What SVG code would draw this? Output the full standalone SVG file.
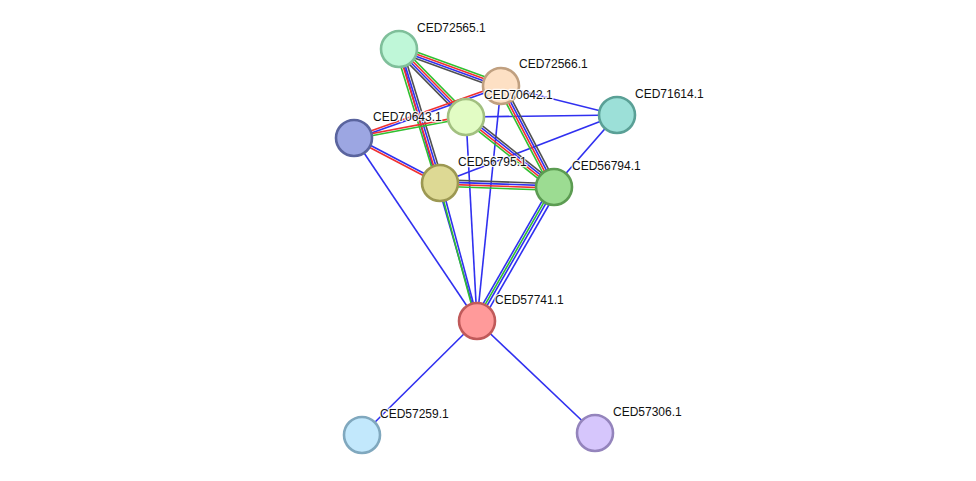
<svg xmlns="http://www.w3.org/2000/svg" width="976" height="481" viewBox="0 0 976 481">
<style>
line{stroke-width:1.6;fill:none}
.b{stroke:#3030f0}.r{stroke:#f03030}.g{stroke:#30c030}.k{stroke:#505050}
circle{stroke-width:2.6}
text{font-family:"Liberation Sans",Arial,sans-serif;font-size:12px;fill:#111;stroke:#fff;stroke-width:2.5px;stroke-opacity:0.85;paint-order:stroke;stroke-linejoin:round}
</style>
<rect width="976" height="481" fill="#fff"/>
<g id="connectors">
<line class="b" x1="354" y1="138" x2="477" y2="321"/>
<line class="b" x1="466" y1="117" x2="477" y2="321"/>
<line class="b" x1="501" y1="86" x2="477" y2="321"/>
<line class="b" x1="399" y1="49" x2="477" y2="321"/>
<line class="b" x1="477" y1="321" x2="362" y2="435"/>
<line class="b" x1="477" y1="321" x2="595" y2="433"/>
<line class="b" x1="466" y1="117" x2="617" y2="115"/>
<line class="b" x1="501" y1="86" x2="617" y2="115"/>
<line class="b" x1="440" y1="183" x2="617" y2="115"/>
<line class="b" x1="554" y1="187" x2="617" y2="115"/>
<g transform="translate(399,49) rotate(19.94)">
<line class="g" x1="0" y1="-3.3" x2="108.5" y2="-3.3"/><line class="r" x1="0" y1="-1.1" x2="108.5" y2="-1.1"/><line class="b" x1="0" y1="1.1" x2="108.5" y2="1.1"/><line class="k" x1="0" y1="3.3" x2="108.5" y2="3.3"/>
</g>
<g transform="translate(399,49) rotate(45.42)">
<line class="g" x1="0" y1="-3.3" x2="95.5" y2="-3.3"/><line class="r" x1="0" y1="-1.1" x2="95.5" y2="-1.1"/><line class="b" x1="0" y1="1.1" x2="95.5" y2="1.1"/><line class="k" x1="0" y1="3.3" x2="95.5" y2="3.3"/>
</g>
<g transform="translate(399,49) rotate(73)">
<line class="k" x1="0" y1="-3.3" x2="140.1" y2="-3.3"/><line class="b" x1="0" y1="-1.1" x2="140.1" y2="-1.1"/><line class="r" x1="0" y1="1.1" x2="140.1" y2="1.1"/><line class="g" x1="0" y1="3.3" x2="140.1" y2="3.3"/>
</g>
<g transform="translate(466,117) rotate(38.5)">
<line class="k" x1="0" y1="-3.3" x2="112.4" y2="-3.3"/><line class="b" x1="0" y1="-1.1" x2="112.4" y2="-1.1"/><line class="r" x1="0" y1="1.1" x2="112.4" y2="1.1"/><line class="g" x1="0" y1="3.3" x2="112.4" y2="3.3"/>
</g>
<g transform="translate(501,86) rotate(62.3)">
<line class="k" x1="0" y1="-3.3" x2="114.1" y2="-3.3"/><line class="b" x1="0" y1="-1.1" x2="114.1" y2="-1.1"/><line class="r" x1="0" y1="1.1" x2="114.1" y2="1.1"/><line class="g" x1="0" y1="3.3" x2="114.1" y2="3.3"/>
</g>
<g transform="translate(440,183) rotate(2)">
<line class="k" x1="0" y1="-3.3" x2="114.1" y2="-3.3"/><line class="b" x1="0" y1="-1.1" x2="114.1" y2="-1.1"/><line class="r" x1="0" y1="1.1" x2="114.1" y2="1.1"/><line class="g" x1="0" y1="3.3" x2="114.1" y2="3.3"/>
</g>
<g transform="translate(354,138) rotate(27.6)">
<line class="b" x1="0" y1="-1.1" x2="97.1" y2="-1.1"/><line class="r" x1="0" y1="1.1" x2="97.1" y2="1.1"/>
</g>
<g transform="translate(354,138) rotate(-19.48)">
<line class="r" x1="0" y1="-1.1" x2="155.9" y2="-1.1"/><line class="b" x1="0" y1="1.1" x2="155.9" y2="1.1"/>
</g>
<g transform="translate(354,138) rotate(-10.62)">
<line class="r" x1="0" y1="-1.1" x2="114" y2="-1.1"/><line class="g" x1="0" y1="1.1" x2="114" y2="1.1"/>
</g>
<g transform="translate(440,183) rotate(74.99)">
<line class="b" x1="0" y1="-1.1" x2="142.9" y2="-1.1"/><line class="g" x1="0" y1="1.1" x2="142.9" y2="1.1"/>
</g>
<g transform="translate(554,187) rotate(119.9)">
<line class="b" x1="0" y1="-4.5" x2="154.5" y2="-4.5"/><line class="b" x1="0" y1="-1.1" x2="154.5" y2="-1.1"/><line class="g" x1="0" y1="1.1" x2="154.5" y2="1.1"/><line class="b" x1="0" y1="3.3" x2="154.5" y2="3.3"/>
</g>
</g>
<g id="CED72565.1"><circle cx="399" cy="49" r="18" fill="#bff7d8" stroke="#7fbf9a"/><text x="417" y="32">CED72565.1</text></g>
<g id="CED72566.1"><circle cx="501" cy="86" r="18" fill="#fde0c4" stroke="#c0a080"/><text x="519" y="68">CED72566.1</text></g>
<g id="CED70642.1"><circle cx="466" cy="117" r="18" fill="#e2fcc4" stroke="#a2c080"/><text x="484" y="99">CED70642.1</text></g>
<g id="CED71614.1"><circle cx="617" cy="115" r="18" fill="#9ce0d8" stroke="#5aa096"/><text x="635" y="98">CED71614.1</text></g>
<g id="CED70643.1"><circle cx="354" cy="138" r="18" fill="#9ca6e2" stroke="#5a649e"/><text x="373" y="121">CED70643.1</text></g>
<g id="CED56795.1"><circle cx="440" cy="183" r="18" fill="#ddd994" stroke="#9c9852"/><text x="458" y="166">CED56795.1</text></g>
<g id="CED56794.1"><circle cx="554" cy="187" r="18" fill="#9cdc92" stroke="#5c9c52"/><text x="572" y="170">CED56794.1</text></g>
<g id="CED57741.1"><circle cx="477" cy="321" r="18" fill="#ff9a9a" stroke="#c05a5a"/><text x="495" y="304">CED57741.1</text></g>
<g id="CED57259.1"><circle cx="362" cy="435" r="18" fill="#c2e8fc" stroke="#80a8be"/><text x="380" y="418">CED57259.1</text></g>
<g id="CED57306.1"><circle cx="595" cy="433" r="18" fill="#d6c6fc" stroke="#9484bc"/><text x="613" y="416">CED57306.1</text></g>
</svg>
